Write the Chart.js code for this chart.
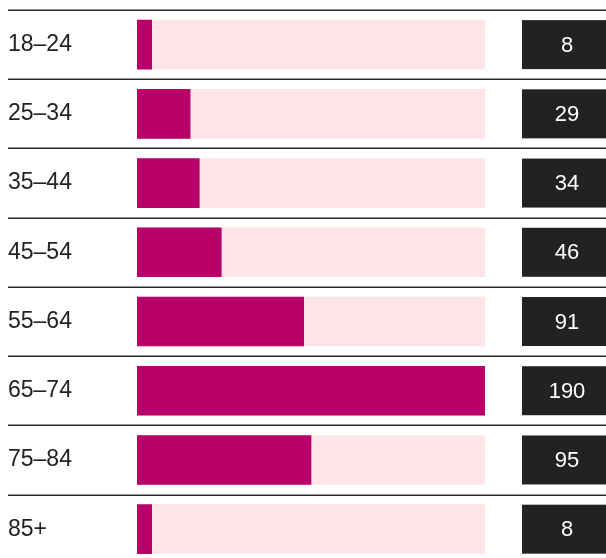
<!DOCTYPE html>
<html>
<head>
<meta charset="utf-8">
<script src="https://cdn.jsdelivr.net/npm/chart.js@4/dist/chart.umd.min.js"></script>
<style>
  html, body { margin: 0; padding: 0; background: #fff; overflow: hidden; }
  #wrap { position: relative; width: 606px; height: 573px; }
</style>
</head>
<body>
<div id="wrap"><canvas id="c"></canvas></div>
<script>
const categories = ['18–24', '25–34', '35–44', '45–54', '55–64', '65–74', '75–84', '85+'];
const values = [8, 29, 34, 46, 91, 190, 95, 8];
const trackMax = 190;
const trackValues = categories.map(() => trackMax);

const FONT = '"Liberation Sans", Arial, Helvetica, sans-serif';

const rowDecor = {
  id: 'rowDecor',
  beforeDatasetsDraw(chart) {
    const ctx = chart.ctx;
    const y = chart.scales.y;
    const n = categories.length;
    const slot = (y.getPixelForValue(1) - y.getPixelForValue(0));
    ctx.save();
    ctx.strokeStyle = '#2a2a2a';
    ctx.lineWidth = 1.5;
    for (let i = 0; i < n; i++) {
      const ly = Math.round(y.getPixelForValue(i) - slot / 2) + 0.25;
      ctx.beginPath();
      ctx.moveTo(8, ly);
      ctx.lineTo(chart.width, ly);
      ctx.stroke();
    }
    ctx.restore();
  },
  afterDatasetsDraw(chart) {
    const ctx = chart.ctx;
    const meta = chart.getDatasetMeta(0);
    ctx.save();
    meta.data.forEach((bar, i) => {
      const h = bar.height;
      const top = bar.y - h / 2;
      ctx.fillStyle = '#222222';
      ctx.fillRect(522, top, chart.width - 522 + 10, h);
      ctx.fillStyle = '#ffffff';
      ctx.font = '22px ' + FONT;
      ctx.textAlign = 'center';
      ctx.textBaseline = 'middle';
      ctx.fillText(String(values[i]), 567, bar.y + 1);
    });
    ctx.restore();
  }
};

new Chart(document.getElementById('c'), {
  type: 'bar',
  data: {
    labels: categories,
    datasets: [
      {
        data: values,
        backgroundColor: '#b8006b',
        grouped: false,
        barThickness: 49,
        order: 0
      },
      {
        data: trackValues,
        backgroundColor: '#fce4e7',
        grouped: false,
        barThickness: 49,
        order: 1
      }
    ]
  },
  options: {
    indexAxis: 'y',
    responsive: true,
    maintainAspectRatio: false,
    animation: false,
    layout: { padding: { left: 8, right: 121, top: 10, bottom: 0 } },
    plugins: { legend: { display: false }, tooltip: { enabled: false } },
    scales: {
      x: { display: false, min: 0, max: trackMax },
      y: {
        border: { display: false },
        grid: { display: false },
        afterFit(scale) { scale.width = 129; },
        ticks: {
          crossAlign: 'far',
          color: '#222222',
          padding: 0,
          font: { family: FONT, size: 23, lineHeight: 0.8 }
        }
      }
    }
  },
  plugins: [rowDecor]
});
</script>
</body>
</html>
